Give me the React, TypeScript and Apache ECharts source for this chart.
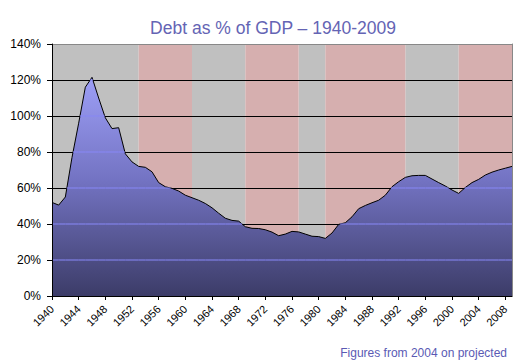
import React, { useEffect, useRef } from "react";
import * as echarts from "echarts";

const startYear = 1940;
const debtPct = [
  52, 50.5, 55, 77, 96, 116, 121.5, 110, 99, 93,
  93.5, 79, 74.5, 72, 71.5, 69, 63, 60.7, 59.8, 58.3,
  56, 54.6, 53.2, 51.4, 49, 46, 43.2, 42, 41.6, 38.5,
  37.6, 37.5, 36.8, 35.5, 33.5, 34.4, 35.9, 35.6, 34.4, 33.2,
  33, 32, 35, 39.8, 40.7, 44, 48.5, 50.3, 51.8, 53.2,
  56, 60.7, 63.5, 65.9, 66.8, 67, 67, 65, 63, 61.1,
  58.9, 57, 60.3, 63, 64.8, 67.2, 68.8, 70, 71, 72,
];
const years = debtPct.map((_, i) => startYear + i);
const xTickYears = [1940, 1944, 1948, 1952, 1956, 1960, 1964, 1968, 1972, 1976, 1980, 1984, 1988, 1992, 1996, 2000, 2004, 2008];
const gridLevels = [20, 40, 60, 80, 100, 120];
const grayBands = [[1940, 1953], [1961, 1969], [1977, 1981], [1993, 2001]];
const pinkBands = [[1953, 1961], [1969, 1977], [1981, 1993], [2001, 2009]];
const titleText = "Debt as % of GDP \u2013 1940-2009";
const noteText = "Figures from 2004 on projected";

export default function App() {
  const ref = useRef<HTMLDivElement>(null);
  useEffect(() => {
    if (!ref.current) return;
    const chart = echarts.init(ref.current, null, { renderer: "svg" });
    const pts = years.map((y, i) => [y, debtPct[i]]);
    const font = "'Liberation Sans', Arial, sans-serif";
    chart.setOption({
      animation: false,
      backgroundColor: "#ffffff",
      title: [
        {
          text: titleText,
          left: 268,
          top: 14,
          textAlign: "center",
          textStyle: { fontFamily: font, fontSize: 17.5, fontWeight: "normal", color: "#6464b4" },
        },
        {
          text: noteText,
          right: 15,
          top: 342,
          textStyle: { fontFamily: font, fontSize: 12, fontWeight: "normal", color: "#5a5ab4" },
        },
      ],
      grid: { left: 52, right: 15, top: 44, bottom: 64, show: false },
      xAxis: {
        type: "value",
        min: 1940,
        max: 2009,
        interval: 4,
        z: 5,
        axisLine: { show: true, lineStyle: { color: "#000", width: 1 } },
        axisTick: { show: true, length: 4, customValues: xTickYears, lineStyle: { color: "#000" } },
        axisLabel: {
          customValues: xTickYears,
          formatter: (v: number) => String(v),
          hideOverlap: false,
          rotate: 45,
          margin: 11,
          fontFamily: font,
          fontSize: 11,
          color: "#000",
        },
        splitLine: { show: false },
      },
      yAxis: [
        {
          type: "value",
          min: 0,
          max: 140,
          interval: 20,
          z: 5,
          position: "left",
          axisLine: { show: true, lineStyle: { color: "#000", width: 1 } },
          axisTick: { show: true, length: 5, lineStyle: { color: "#000" } },
          axisLabel: { formatter: "{value}%", fontFamily: font, fontSize: 12, color: "#000", margin: 11 },
          splitLine: { show: false },
        },
        {
          type: "value",
          min: 0,
          max: 140,
          interval: 20,
          z: 5,
          position: "right",
          axisLine: { show: true, lineStyle: { color: "#888", width: 1 } },
          axisTick: { show: false },
          axisLabel: { show: false },
          splitLine: { show: false },
        },
      ],
      series: [
        {
          type: "line",
          data: pts,
          symbol: "none",
          z: 1,
          lineStyle: { opacity: 0 },
          silent: true,
          markArea: {
            silent: true,
            z: 1,
            data: [
              ...grayBands.map((b) => [
                { xAxis: b[0], yAxis: 0, itemStyle: { color: "#c0c0c0" } },
                { xAxis: b[1], yAxis: 140 },
              ]),
              ...pinkBands.map((b) => [
                { xAxis: b[0], yAxis: 0, itemStyle: { color: "#d6afaf" } },
                { xAxis: b[1], yAxis: 140 },
              ]),
            ],
          },
          markLine: {
            silent: true,
            z: 2,
            symbol: "none",
            label: { show: false },
            lineStyle: { color: "#000", width: 1, type: "solid" },
            data: [
              ...gridLevels.map((v) => ({ yAxis: v })),
              { yAxis: 140, lineStyle: { color: "#888", width: 1, type: "solid" } },
            ],
          },
        },
        {
          type: "line",
          data: pts,
          symbol: "none",
          z: 3,
          silent: true,
          lineStyle: { color: "#000", width: 1 },
          areaStyle: {
            opacity: 1,
            color: new echarts.graphic.LinearGradient(
              0, 60, 0, 296,
              [
                { offset: 0, color: "#a4a6ff" },
                { offset: 0.5, color: "#7474c4" },
                { offset: 1, color: "#3c3c68" },
              ],
              true
            ),
          },
        },
        {
          type: "custom",
          z: 4,
          silent: true,
          data: pts.slice(0, -1),
          encode: { x: 0, y: 1 },
          renderItem: (params: any, api: any) => {
            const i = params.dataIndex;
            const x0 = years[i];
            const x1 = years[i + 1];
            const v0 = debtPct[i];
            const v1 = debtPct[i + 1];
            const children: any[] = [];
            gridLevels.forEach((L) => {
              if (v0 < L && v1 < L) return;
              let a = x0;
              let b = x1;
              if (v0 < L) a = x0 + ((L - v0) / (v1 - v0)) * (x1 - x0);
              if (v1 < L) b = x0 + ((L - v0) / (v1 - v0)) * (x1 - x0);
              const p0 = api.coord([a, L]);
              const p1 = api.coord([b, L]);
              children.push({
                type: "line",
                shape: { x1: p0[0], y1: p0[1], x2: p1[0], y2: p1[1] },
                style: { stroke: "rgba(135,135,245,0.8)", lineWidth: 1.3 },
              });
            });
            return { type: "group", children };
          },
        },
      ],
    });
    return () => chart.dispose();
  }, []);
  return (
    <div
      ref={ref}
      style={{ position: "absolute", left: 0, top: 0, width: 527, height: 360, background: "#fff" }}
    />
  );
}
